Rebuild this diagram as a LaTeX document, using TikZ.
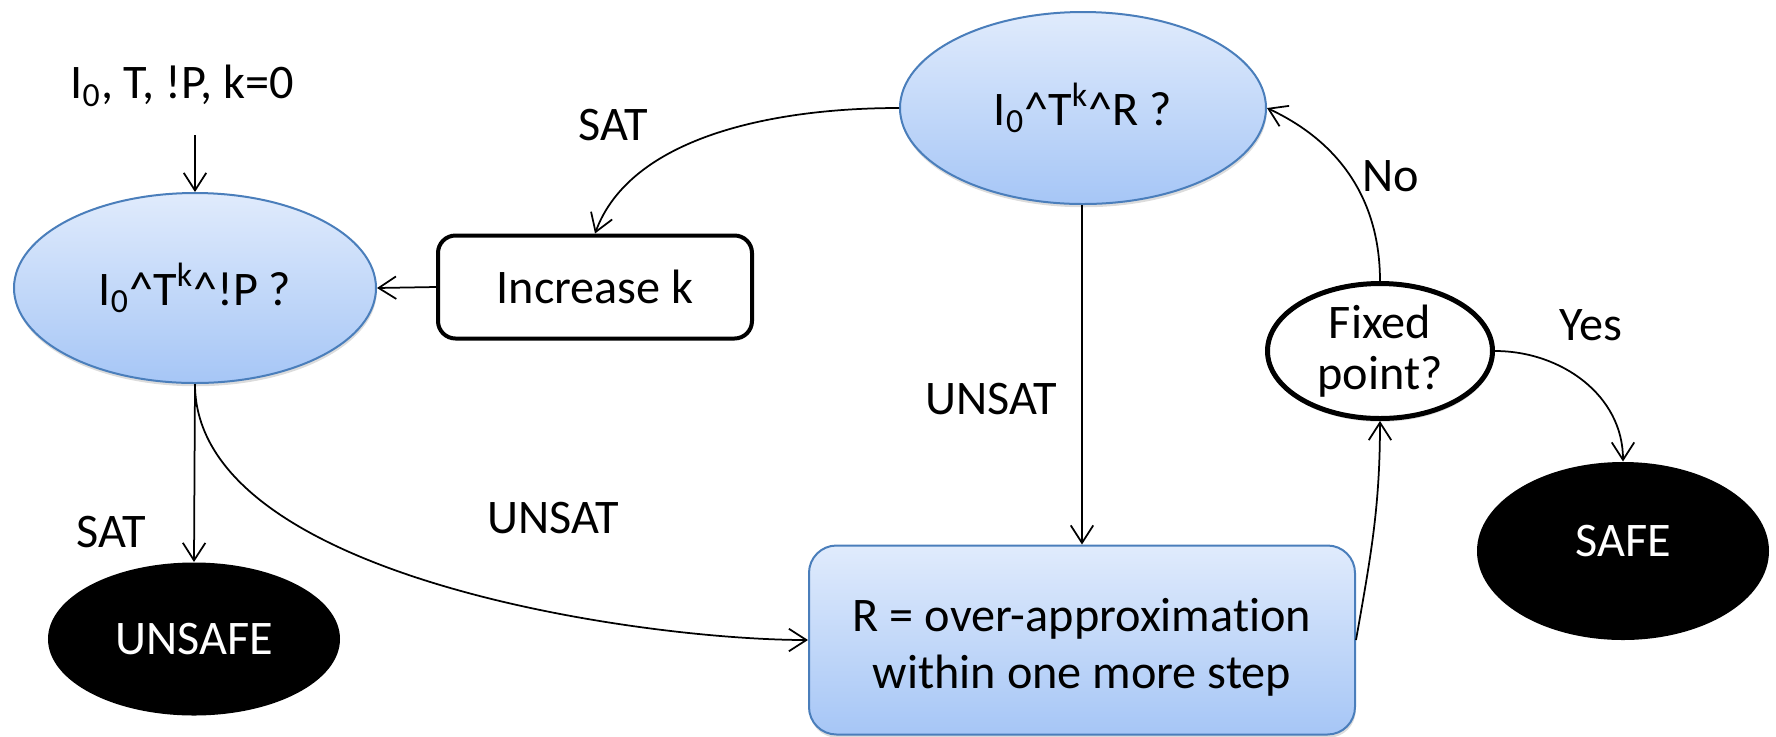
\documentclass[tikz,border=0pt]{standalone}
\usepackage{fontspec}
\setmainfont{Carlito}[Ligatures=NoCommon]
\usetikzlibrary{shapes.geometric,arrows.meta,shadows}
\definecolor{qtop}{HTML}{E0EBFC}
\definecolor{qbot}{HTML}{A6C6F6}
\definecolor{qedge}{HTML}{4A7EBB}
\begin{document}
\begin{tikzpicture}[x=0.4pt,y=-0.4pt,
  font=\fontsize{19.3}{22.8}\selectfont,
  softshadow/.style={drop shadow={opacity=0.28,shadow xshift=0.3pt,shadow yshift=-1.3pt}},
  query/.style={ellipse, draw=qedge, line width=0.8pt, top color=qtop, bottom color=qbot,
    inner sep=0pt, softshadow},
  stepbox/.style={rectangle, draw=qedge, line width=0.8pt, top color=qtop, bottom color=qbot,
    rounded corners=11pt, inner sep=0pt, align=center, softshadow},
  plainbox/.style={rectangle, draw, line width=1.6pt, rounded corners=7pt, inner sep=0pt, fill=white},
  verdict/.style={ellipse, fill=black, text=white, inner sep=0pt},
  check/.style={ellipse, draw, line width=2pt, fill=white, inner sep=0pt, align=center,
    font=\fontsize{19.3}{20.4}\selectfont, softshadow},
  lbl/.style={inner sep=0pt},
  arr/.style={-{Straight Barb[length=7pt,width=9pt]}, line width=0.7pt}]
\useasboundingbox (0,0) rectangle (1776,736);

% nodes
\node[lbl] (init) at (182,86) {I\textsubscript{0}, T, !P, k=0};
\node[query, minimum width=144.8pt, minimum height=76pt] (q1) at (195,288)
  {I\textsubscript{0}\textasciicircum T\textsuperscript{k}\textasciicircum !P ?};
\node[query, minimum width=146.4pt, minimum height=76.8pt] (q2) at (1083,108)
  {I\textsubscript{0}\textasciicircum T\textsuperscript{k}\textasciicircum R ?};
\node[plainbox, minimum width=125.6pt, minimum height=41.2pt] (inc) at (595,287) {Increase k};
\node[verdict, minimum width=116.8pt, minimum height=61.2pt] (unsafe) at (194,639) {UNSAFE};
\node[verdict, minimum width=116.8pt, minimum height=71.2pt, text height=12.4pt, text depth=8pt]
  (safe) at (1623,551) {SAFE};
\node[stepbox, minimum width=218.4pt, minimum height=75.6pt] (rbox) at (1082,640)
  {\rule{0pt}{19pt}R = over-approximation\\within one more step};
\node[check, minimum width=90pt, minimum height=54pt] (fix) at (1380,351) {Fixed\\point?};

% connectors
\draw[arr] (init.south -| q1.north) ++(0,28) -- (q1.north);
\draw[arr] (inc.west) -- (q1.east);
\draw[arr] (q2.west) .. controls +(-130,0) and +(35,-95) .. (inc.north);
\draw[arr] (q1.south) -- (unsafe.north);
\draw[arr] (q1.south) .. controls +(0,194) and +(-165,0) .. (rbox.west);
\draw[arr] (q2.south -| rbox.north) -- (rbox.north);
\draw[arr] (rbox.east) to[out=80,in=-90] (fix.south);
\draw[arr] (fix.north) to[out=90,in=-25] (q2.east);
\draw[arr] (fix.east) to[out=0,in=90] (safe.north);

% edge labels
\node[lbl] (lsat1) at (613,125) {SAT};
\node[lbl] (lno) at (1391,176) {No};
\node[lbl] (lunsat1) at (991,399) {UNSAT};
\node[lbl] (lunsat2) at (553,518) {UNSAT};
\node[lbl] (lsat2) at (111,532) {SAT};
\node[lbl] (lyes) at (1591,325) {Yes};
\end{tikzpicture}
\end{document}
